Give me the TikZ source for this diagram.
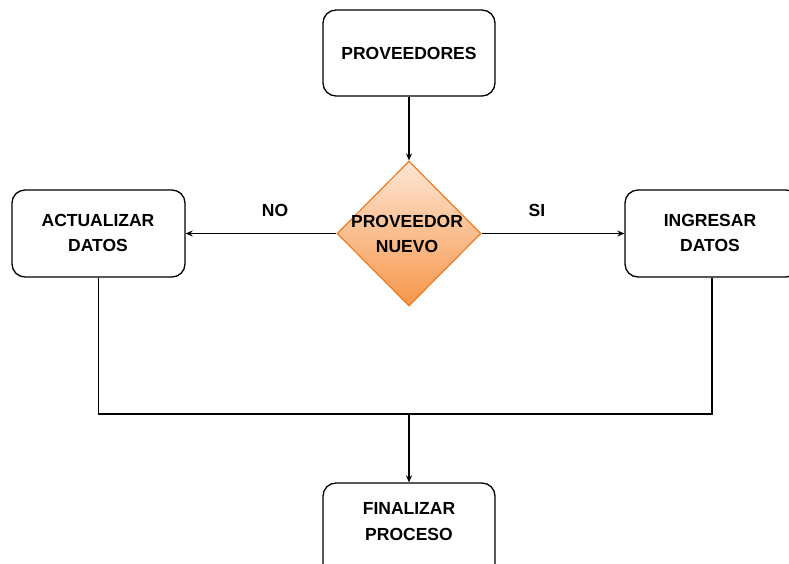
\documentclass[tikz,border=0pt]{standalone}
\usepackage{fontspec}
\setmainfont{Liberation Sans}
\usetikzlibrary{shapes.geometric,arrows.meta}
\definecolor{dtop}{HTML}{FDE6D4}
\definecolor{dbot}{HTML}{F7964A}
\definecolor{dline}{HTML}{EC7C24}
\begin{document}
\begin{tikzpicture}[x=1pt,y=-1pt,
  txt/.style={font=\fontsize{17.5}{25.5}\selectfont\bfseries},
  box/.style={draw=black,line width=1.3pt,rounded corners=13pt,fill=white,
    minimum width=172pt,minimum height=86pt,align=center,inner sep=0pt,txt},
  dec/.style={diamond,draw=dline,line width=1.2pt,top color=dtop,bottom color=dbot,
    minimum width=144pt,minimum height=145pt,inner sep=0pt,align=center,aspect=1,txt},
  lbl/.style={txt,inner sep=0pt},
  conn/.style={line width=1.3pt,draw=black},
  arr/.style={conn,-{Stealth[length=7pt,width=6pt]}}]
\useasboundingbox (0,0) rectangle (789,563);
\begin{scope}
\clip (0,0) rectangle (789,563);
\node[box] (prov) at (409,53) {PROVEEDORES};
\node[dec] (nuevo) at (409,233.5) {};
\node[lbl,align=center] (nuevotxt) at (407,234) {PROVEEDOR\\NUEVO};
\node[box,minimum width=173pt,minimum height=87pt] (act) at (98.5,233.5) {};
\node[lbl,align=center] (acttxt) at (98,233) {ACTUALIZAR\\DATOS};
\node[box,minimum width=174pt,minimum height=87pt] (ing) at (712,233.5) {};
\node[lbl,align=center] (ingtxt) at (710,233) {INGRESAR\\DATOS};
\node[box,minimum height=100pt] (fin) at (409,533) {};
\node[lbl,align=center] (fintxt) at (409,521.5) {FINALIZAR\\PROCESO};
\coordinate (j) at (409,414);
\node[lbl] (no) at (275,210) {NO};
\node[lbl] (si) at (537,210) {SI};
\draw[arr] (prov.south) -- (nuevo.north);
\draw[arr] (nuevo.west) -- (act.east);
\draw[arr] (nuevo.east) -- (ing.west);
\draw[conn] (act.south) |- (j) -| (ing.south);
\draw[arr] (j) -- (fin.north);
\end{scope}
\end{tikzpicture}
\end{document}
